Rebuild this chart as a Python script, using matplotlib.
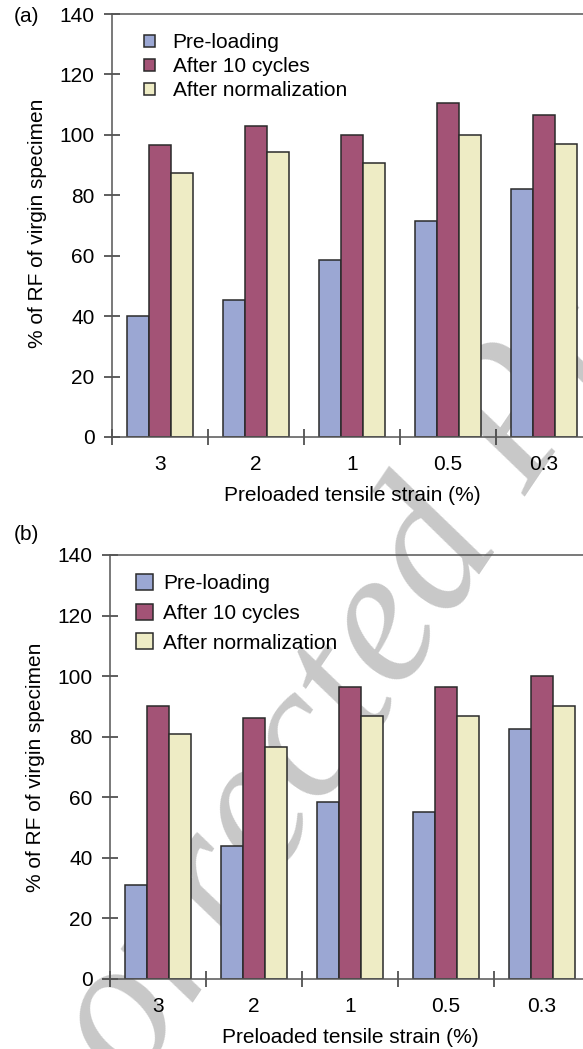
import numpy as np
import matplotlib.pyplot as plt
from matplotlib.font_manager import FontProperties
from matplotlib.textpath import text_to_path

strain_labels = ["3", "2", "1", "0.5", "0.3"]
series_names = ["Pre-loading", "After 10 cycles", "After normalization"]

# panel (a): % of RF of virgin specimen
a_preload = [40.0, 45.3, 58.7, 71.4, 82.0]
a_cycles = [96.5, 102.9, 100.0, 110.6, 106.7]
a_norm = [87.3, 94.2, 90.7, 100.0, 97.0]

# panel (b)
b_preload = [31.0, 43.8, 58.6, 55.2, 82.7]
b_cycles = [90.3, 86.2, 96.4, 96.4, 100.0]
b_norm = [81.0, 76.6, 86.8, 86.8, 90.3]

colors = ["#9ba7d3", "#a35376", "#eeecc5"]

plt.rcParams['font.family'] = ['Liberation Sans', 'DejaVu Sans']
FS = 15

W, H = 583, 1049
fig = plt.figure(figsize=(W / 100, H / 100), dpi=100)

# "Uncorrected Proofs" watermark behind the plots, one glyph at a time
wm_text = "Uncorrected Proofs"
wm_size = 140
wm_rot = 56
wm_prop = FontProperties(family='Liberation Serif', style='italic', size=wm_size)
ang = np.deg2rad(wm_rot)
u = np.array([np.cos(ang), -np.sin(ang)])      # along text, image coords
up = np.array([-np.sin(ang), -np.cos(ang)])    # text "up", image coords
em = wm_size * 100 / 72
adv = [text_to_path.get_text_width_height_descent(c, wm_prop, ismath=False)[0] * 100 / 72
       for c in wm_text]
cum = np.concatenate([[0], np.cumsum(adv)])
k = 9                                  # the 'e' just before 'd'
e_center = np.array([385.0, 630.0])
origin_k = e_center - 0.5 * adv[k] * u - 0.22 * em * up
for i, ch in enumerate(wm_text):
    if ch == " ":
        continue
    p = origin_k + (cum[i] - cum[k]) * u
    c = p + 0.5 * adv[i] * u + 0.22 * em * up
    if not (-10 < c[0] < W + 10 and -10 < c[1] < H + 10):
        continue
    fig.text(p[0] / W, 1 - p[1] / H, ch, rotation=wm_rot, rotation_mode='anchor',
             ha='left', va='baseline', fontproperties=wm_prop,
             color='#c8c8c8', zorder=-5)


def draw_panel(ax, values, leg_kw):
    x = np.arange(len(strain_labels)) + 0.5
    width = 0.226
    for i, (vals, name) in enumerate(zip(values, series_names)):
        ax.bar(x + (i - 1) * width, vals, width, color=colors[i],
               edgecolor='#2a2a2a', linewidth=1.1, label=name, zorder=2)
    ax.patch.set_alpha(0)
    ax.set_xlim(0, 5)
    ax.set_ylim(0, 140)
    ax.set_yticks(range(0, 141, 20))
    ax.set_xticks(range(0, 5))
    ax.set_xticklabels([])
    ax.set_xticks(x, minor=True)
    ax.set_xticklabels(strain_labels, minor=True, fontsize=FS)
    ax.tick_params(which='major', direction='inout', length=11, width=1.1,
                   color='#333333')
    ax.tick_params(axis='y', labelsize=FS, pad=7)
    ax.tick_params(axis='x', which='minor', length=0, pad=13)
    for s in ['left', 'bottom', 'top']:
        ax.spines[s].set_color('#555555')
        ax.spines[s].set_linewidth(1.1)
    ax.spines['right'].set_visible(False)
    ax.set_xlabel("Preloaded tensile strain (%)", fontsize=FS, labelpad=8.5)
    ax.set_ylabel("% of RF of virgin specimen", fontsize=FS)
    ax.legend(loc='upper left', frameon=False, borderaxespad=0, borderpad=0,
              fontsize=FS, **leg_kw)


ax1 = fig.add_axes([112 / W, 1 - 437 / H, 480 / W, 423 / H])
draw_panel(ax1, [a_preload, a_cycles, a_norm],
           dict(bbox_to_anchor=(0.0667, 0.955), handlelength=0.52,
                handleheight=0.52, handletextpad=0.85, labelspacing=0.25))
ax1.yaxis.set_label_coords(-0.136, 0.505)

ax2 = fig.add_axes([110 / W, 1 - 979 / H, 480 / W, 424 / H])
draw_panel(ax2, [b_preload, b_cycles, b_norm],
           dict(bbox_to_anchor=(0.054, 0.955), handlelength=0.8,
                handleheight=0.8, handletextpad=0.52, labelspacing=0.5))
ax2.yaxis.set_label_coords(-0.136, 0.5)

fig.text(14 / W, 1 - 16 / H, "(a)", fontsize=FS, ha='left', va='center')
fig.text(14 / W, 1 - 535 / H, "(b)", fontsize=FS, ha='left', va='center')

fig.savefig("out.png", dpi=100)
